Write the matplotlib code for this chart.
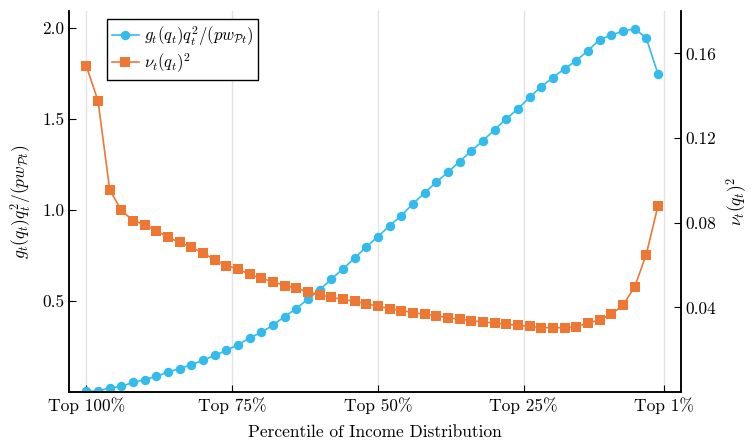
import numpy as np
import matplotlib
matplotlib.use("Agg")
import matplotlib.pyplot as plt

plt.rcParams['font.family'] = 'serif'
plt.rcParams['font.serif'] = ['cmr10', 'DejaVu Serif']
plt.rcParams['mathtext.fontset'] = 'cm'
plt.rcParams['axes.formatter.use_mathtext'] = True

# percentile positions (Top 100% ... Top 2%)
percentile = np.arange(100, 0, -2)

# g_t(q_t) q_t^2 / (p w_Pt), left axis
g_vals = [0.003, 0.006, 0.022, 0.031, 0.053, 0.068, 0.086, 0.110, 0.128, 0.150,
          0.174, 0.201, 0.229, 0.260, 0.297, 0.328, 0.368, 0.415, 0.459, 0.511,
          0.562, 0.621, 0.677, 0.736, 0.798, 0.855, 0.914, 0.970, 1.035, 1.095,
          1.154, 1.209, 1.267, 1.326, 1.381, 1.443, 1.502, 1.557, 1.620, 1.679,
          1.729, 1.778, 1.822, 1.877, 1.937, 1.963, 1.984, 1.998, 1.947, 1.751]

# nu_t(q_t)^2, right axis
nu_vals = [0.1539, 0.1376, 0.0956, 0.0858, 0.0810, 0.0791, 0.0762, 0.0731, 0.0707, 0.0684,
           0.0657, 0.0625, 0.0597, 0.0581, 0.0556, 0.0537, 0.0521, 0.0503, 0.0490, 0.0473,
           0.0460, 0.0447, 0.0438, 0.0428, 0.0418, 0.0405, 0.0394, 0.0385, 0.0375, 0.0367,
           0.0361, 0.0350, 0.0345, 0.0337, 0.0331, 0.0326, 0.0320, 0.0315, 0.0310, 0.0304,
           0.0304, 0.0304, 0.0309, 0.0325, 0.0342, 0.0367, 0.0410, 0.0495, 0.0649, 0.0877]

xtick_pos = [100, 75, 50, 25, 1]
xtick_labels = ["Top 100%", "Top 75%", "Top 50%", "Top 25%", "Top 1%"]
left_ticks = [0.5, 1.0, 1.5, 2.0]
right_ticks = [0.04, 0.08, 0.12, 0.16]

blue = '#33BBEE'
orange = '#EE7733'
fs = 12.5

fig = plt.figure(figsize=(7.52, 4.41), dpi=100)
ax = fig.add_axes([0.0918, 0.1111, 0.8138, 0.8639])
ax2 = ax.twinx()

l1, = ax.plot(percentile, g_vals, color=blue, lw=1.2, marker='o', ms=6.8,
              mew=0, label=r'$g_t(q_t)q_t^2/(pw_{\mathcal{P}t})$')
l2, = ax2.plot(percentile, nu_vals, color=orange, lw=1.2, marker='s', ms=6.6,
               mew=0, label=r'$\nu_t(q_t)^2$')

ax.set_xlim(102.97, -1.97)
ax.set_ylim(0.0, 2.095)
ax2.set_ylim(0.0, 0.18)

ax.set_xticks(xtick_pos)
ax.set_xticklabels(xtick_labels, fontsize=fs)
ax.set_yticks(left_ticks)
ax.set_yticklabels(["%.1f" % v for v in left_ticks], fontsize=fs)
ax2.set_yticks(right_ticks)
ax2.set_yticklabels(["%.2f" % v for v in right_ticks], fontsize=fs)

ax.grid(axis='x', color='#e2e2e2', lw=1.0)
ax.set_axisbelow(True)

for a in (ax, ax2):
    a.spines['top'].set_visible(False)
    for s in a.spines.values():
        s.set_linewidth(1.1)
    a.tick_params(direction='in', length=5, width=0.8)

ax.set_xlabel('Percentile of Income Distribution', fontsize=fs, labelpad=8)
ax.set_ylabel(r'$g_t(q_t)q_t^2/(pw_{\mathcal{P}t})$', fontsize=fs, labelpad=6)
ax2.set_ylabel(r'$\nu_t(q_t)^2$', fontsize=fs, rotation=90, labelpad=5)

leg = ax2.legend(handles=[l1, l2], loc='upper left', bbox_to_anchor=(0.062, 0.979),
                 borderaxespad=0, fancybox=False, framealpha=1, edgecolor='black',
                 fontsize=12, handlelength=1.6, handletextpad=0.3, borderpad=0.3,
                 labelspacing=0.2)
leg.get_frame().set_linewidth(1.0)

fig.savefig('out.png', dpi=100)
